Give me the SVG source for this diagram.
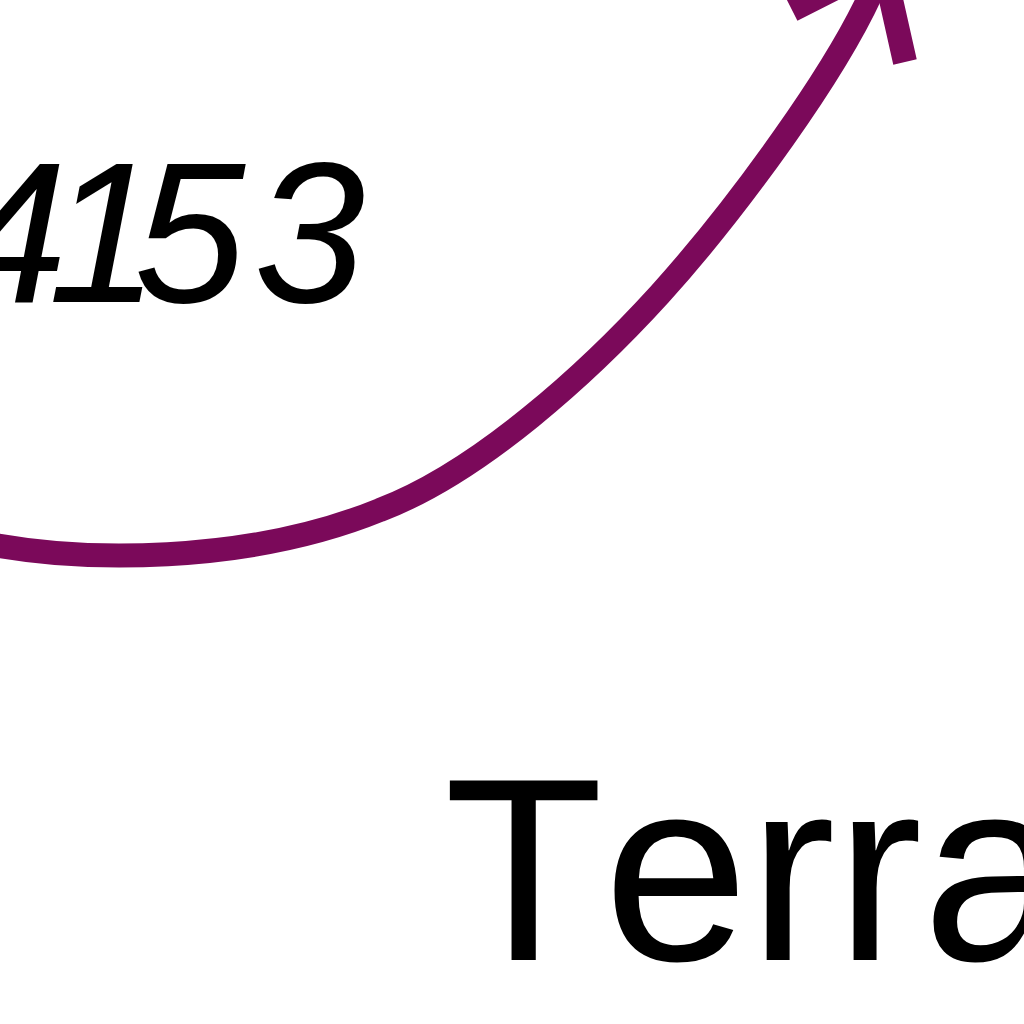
<svg xmlns="http://www.w3.org/2000/svg" width="1024" height="1024" viewBox="0 0 1024 1024">
  <style>
    .edge { fill: none; stroke: #7b095a; stroke-width: 24; stroke-linejoin: miter; }
    .lbl { font-family: "Liberation Sans", Arial, sans-serif; font-style: italic; fill: #000; }
    .node-text { font-family: "Liberation Sans", Arial, sans-serif; fill: #000; font-kerning: none; }
  </style>
  <rect width="1024" height="1024" fill="#fff"/>
  <g id="connectors">
    <path class="edge" d="M -30,540 C 80,565 250,563 380,510 C 480,472 590,371 660,294 C 725,222 850,60 883,-36"/>
    <path class="edge" d="M 792,10 L 883,-36 L 905,62"/>
  </g>
  <g id="edge-label-4153">
    <text class="lbl" x="-44 48 134 254" y="302" font-size="200">4153</text>
  </g>
  <g id="node-terra">
    <text class="node-text" x="444" y="960" font-size="261">Terra</text>
  </g>
</svg>
